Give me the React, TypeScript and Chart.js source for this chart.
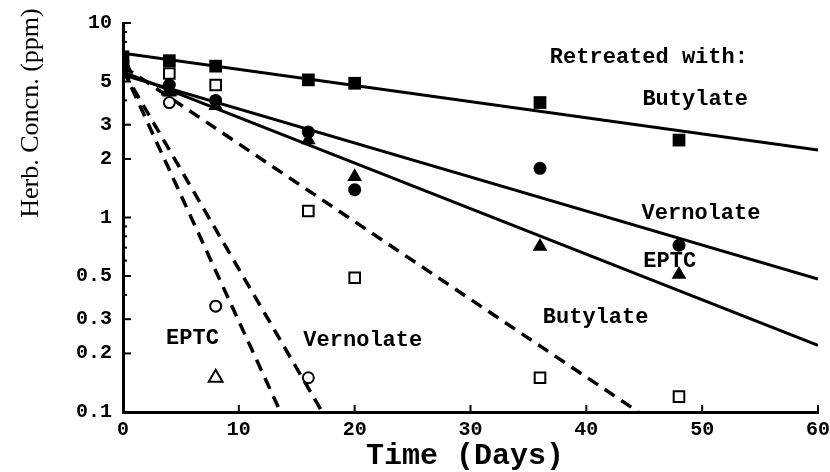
import { useEffect, useRef } from "react";
import { Chart, registerables } from "chart.js";

Chart.register(...registerables);

// Sampling days after application
const sampleDays = [0, 4, 8, 16, 20, 36, 48];

// Soils retreated with the same herbicide (filled markers), ppm
const butylateRetreated = [6.7, 6.4, 6.0, 5.1, 4.9, 3.9, 2.5];
const vernolateRetreated = [6.0, 4.8, 4.0, 2.75, 1.39, 1.79, 0.72];
const eptcRetreated = [6.2, 4.4, 3.75, 2.5, 1.62, 0.71, 0.51];

// First-time treated soils (open markers), ppm
const butylateDays = [0, 4, 8, 16, 20, 36, 48];
const butylateFirst = [6.0, 5.5, 4.8, 1.08, 0.49, 0.15, 0.12];
const vernolateDays = [0, 4, 8, 16];
const vernolateFirst = [5.9, 3.9, 0.35, 0.15];
const eptcDays = [0, 4, 8];
const eptcFirst = [6.1, 4.5, 0.15];

// Fitted first-order decline lines: [start, end] day and concentration
const butylateRetreatedFitDays = [0, 60];
const butylateRetreatedFit = [7.0, 2.22];
const vernolateRetreatedFitDays = [0, 60];
const vernolateRetreatedFit = [5.4, 0.483];
const eptcRetreatedFitDays = [0, 60];
const eptcRetreatedFit = [5.6, 0.22];
const butylateFitDays = [0, 44.5];
const butylateFit = [6.0, 0.1];
const vernolateFitDays = [0, 17.2];
const vernolateFit = [5.7, 0.1];
const eptcFitDays = [0, 13.6];
const eptcFit = [5.8, 0.1];

// Axis ticks
const xTickValues = [0, 10, 20, 30, 40, 50, 60];
const yTickValues = [0.1, 0.2, 0.3, 0.5, 1, 2, 3, 5, 10];

// Curve labels: text, day, concentration
const labelTexts = ["Retreated with:", "Butylate", "Vernolate", "EPTC", "Butylate", "Vernolate", "EPTC"];
const labelDays = [45.4, 49.4, 49.9, 47.2, 40.8, 20.7, 6.0];
const labelConcs = [6.63, 4.06, 1.05, 0.596, 0.306, 0.232, 0.238];

const MONO = '"Liberation Mono", "Courier New", monospace';
const SERIF = '"Liberation Serif", "Times New Roman", serif';

const pts = (xs: number[], ys: number[]) => xs.map((x, i) => ({ x, y: ys[i] }));

const filled = (label: string, xs: number[], ys: number[], style: string, r: number) => ({
  label,
  data: pts(xs, ys),
  pointStyle: style,
  pointRadius: r,
  backgroundColor: "#000",
  borderColor: "#000",
  borderWidth: 0,
  showLine: false,
});

const open = (label: string, xs: number[], ys: number[], style: string, r: number) => ({
  label,
  data: pts(xs, ys),
  pointStyle: style,
  pointRadius: r,
  backgroundColor: "#fff",
  borderColor: "#000",
  borderWidth: 2,
  showLine: false,
});

const fit = (label: string, xs: number[], ys: number[], dashed: boolean) => ({
  label,
  data: pts(xs, ys),
  showLine: true,
  pointRadius: 0,
  borderColor: "#000",
  borderWidth: dashed ? 3.5 : 3,
  borderDash: dashed ? [12, 8] : [],
  backgroundColor: "#000",
});

const axisDecor = {
  id: "axisDecor",
  afterDraw(chart: any) {
    const { ctx, chartArea, scales } = chart;
    const xs = scales.x;
    const ys = scales.y;
    ctx.save();
    ctx.strokeStyle = "#000";
    ctx.lineWidth = 2;
    // inward tick marks on the log axis
    for (let k = -1; k <= 1; k++) {
      for (let m = 1; m <= 9; m++) {
        const v = m * Math.pow(10, k);
        if (v < 0.1 - 1e-9 || v > 10 + 1e-9) continue;
        const major = yTickValues.some((t) => Math.abs(t - v) < 1e-9);
        const py = ys.getPixelForValue(v);
        ctx.beginPath();
        ctx.moveTo(chartArea.left, py);
        ctx.lineTo(chartArea.left + (major ? 8 : 4), py);
        ctx.stroke();
      }
    }
    for (const d of xTickValues) {
      const px = xs.getPixelForValue(d);
      ctx.beginPath();
      ctx.moveTo(px, chartArea.bottom);
      ctx.lineTo(px, chartArea.bottom - 7);
      ctx.stroke();
    }

    // curve labels
    ctx.fillStyle = "#000";
    ctx.font = `bold 22px ${MONO}`;
    ctx.textAlign = "center";
    ctx.textBaseline = "middle";
    labelTexts.forEach((t, i) => {
      ctx.fillText(t, xs.getPixelForValue(labelDays[i]), ys.getPixelForValue(labelConcs[i]));
    });

    // axis titles
    ctx.font = `bold 30px ${MONO}`;
    ctx.fillText("Time (Days)", 465, 456);
    ctx.translate(31, 113);
    ctx.rotate(-Math.PI / 2);
    ctx.font = `26px ${SERIF}`;
    ctx.fillText("Herb. Concn. (ppm)", 0, 0);
    ctx.restore();
  },
};

export default function App() {
  const canvasRef = useRef<HTMLCanvasElement | null>(null);

  useEffect(() => {
    if (!canvasRef.current) return;
    const chart = new Chart(canvasRef.current, {
      type: "scatter",
      data: {
        datasets: [
          filled("Butylate, retreated", sampleDays, butylateRetreated, "rect", 9),
          filled("Vernolate, retreated", sampleDays, vernolateRetreated, "circle", 6.5),
          filled("EPTC, retreated", sampleDays, eptcRetreated, "triangle", 8.5),
          open("Butylate", butylateDays, butylateFirst, "rect", 7.5),
          open("Vernolate", vernolateDays, vernolateFirst, "circle", 5.5),
          open("EPTC", eptcDays, eptcFirst, "triangle", 8),
          fit("Butylate, retreated fit", butylateRetreatedFitDays, butylateRetreatedFit, false),
          fit("Vernolate, retreated fit", vernolateRetreatedFitDays, vernolateRetreatedFit, false),
          fit("EPTC, retreated fit", eptcRetreatedFitDays, eptcRetreatedFit, false),
          fit("Butylate fit", butylateFitDays, butylateFit, true),
          fit("Vernolate fit", vernolateFitDays, vernolateFit, true),
          fit("EPTC fit", eptcFitDays, eptcFit, true),
        ] as any,
      },
      options: {
        animation: false,
        responsive: true,
        maintainAspectRatio: false,
        layout: { padding: { left: 0, top: 20, right: 12, bottom: 0 } },
        plugins: { legend: { display: false }, tooltip: { enabled: false } },
        scales: {
          x: {
            type: "linear",
            min: 0,
            max: 60,
            afterBuildTicks: (s: any) => {
              s.ticks = xTickValues.map((v) => ({ value: v }));
            },
            afterFit: (s: any) => {
              s.height = 60;
              s.paddingLeft = 0;
              s.paddingRight = 0;
            },
            grid: { display: false, drawTicks: false },
            border: { display: true, width: 3, color: "#000" },
            ticks: {
              padding: 6,
              maxRotation: 0,
              color: "#000",
              font: { family: MONO, size: 20, weight: "bold" },
              callback: (v: any) => String(v),
            },
          },
          y: {
            type: "logarithmic",
            min: 0.1,
            max: 10,
            afterBuildTicks: (s: any) => {
              s.ticks = yTickValues.map((v) => ({ value: v }));
            },
            afterFit: (s: any) => {
              s.width = 123;
            },
            grid: { display: false, drawTicks: false },
            border: { display: true, width: 3, color: "#000" },
            ticks: {
              padding: 11,
              color: "#000",
              font: { family: MONO, size: 20, weight: "bold" },
              callback: (v: any) => String(v),
            },
          },
        },
      },
      plugins: [axisDecor],
    });
    return () => chart.destroy();
  }, []);

  return (
    <div style={{ position: "absolute", left: 0, top: 0, width: 830, height: 472, background: "#fff" }}>
      <canvas ref={canvasRef} />
    </div>
  );
}
